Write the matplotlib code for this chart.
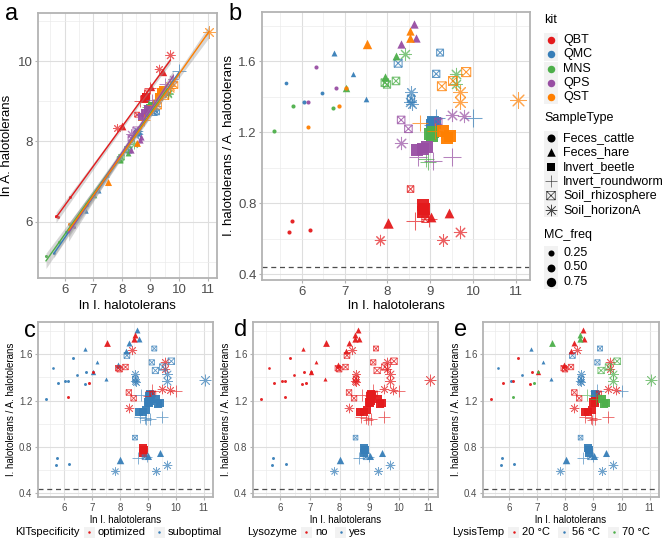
import numpy as np
import matplotlib
matplotlib.use("Agg")
import matplotlib.pyplot as plt
from matplotlib.path import Path
from matplotlib.patches import Rectangle

plt.rcParams['font.family'] = ['Liberation Sans', 'DejaVu Sans']

# ---------------- data ----------------
kit_levels = ["QBT", "QMC", "MNS", "QPS", "QST"]
kit_colors = {"QBT": "#E41A1C", "QMC": "#377EB8", "MNS": "#4DAF4A",
              "QPS": "#984EA3", "QST": "#FF7F00"}
sample_levels = ["Feces_cattle", "Feces_hare", "Invert_beetle",
                 "Invert_roundworm", "Soil_rhizosphere", "Soil_horizonA"]

kit = (["QBT"] * 16 + ["QMC"] * 19 + ["MNS"] * 17 + ["QPS"] * 18 + ["QST"] * 17)
sample_type = (
    ["Feces_cattle"] * 3 + ["Feces_hare"] * 3 + ["Invert_beetle"] * 3 + ["Invert_roundworm"] * 2 + ["Soil_rhizosphere"] * 2 + ["Soil_horizonA"] * 3 +
    ["Feces_cattle"] * 3 + ["Feces_hare"] * 3 + ["Invert_beetle"] * 3 + ["Invert_roundworm"] * 3 + ["Soil_rhizosphere"] * 4 + ["Soil_horizonA"] * 3 +
    ["Feces_cattle"] * 3 + ["Feces_hare"] * 3 + ["Invert_beetle"] * 3 + ["Invert_roundworm"] * 2 + ["Soil_rhizosphere"] * 3 + ["Soil_horizonA"] * 3 +
    ["Feces_cattle"] * 3 + ["Feces_hare"] * 3 + ["Invert_beetle"] * 3 + ["Invert_roundworm"] * 3 + ["Soil_rhizosphere"] * 3 + ["Soil_horizonA"] * 3 +
    ["Feces_cattle"] * 3 + ["Feces_hare"] * 3 + ["Invert_beetle"] * 3 + ["Invert_roundworm"] * 2 + ["Soil_rhizosphere"] * 3 + ["Soil_horizonA"] * 3)

ln_I = [
    # QBT
    5.76, 5.70, 6.19, 8.02, 9.02, 9.43, 8.82, 8.85, 8.83, 8.64, 8.98, 8.54, 8.88, 7.82, 9.29, 9.70,
    # QMC
    5.62, 6.05, 6.46, 6.76, 7.19, 7.49, 9.04, 9.07, 9.10, 9.14, 10.00, 9.05, 8.25, 9.14, 9.23, 8.55, 8.55, 8.53, 8.57,
    # MNS
    5.35, 5.79, 6.74, 7.04, 7.94, 8.21, 9.04, 9.06, 9.00, 8.90, 8.95, 7.94, 7.99, 8.20, 8.42, 9.60, 9.60,
    # QPS
    6.33, 6.14, 6.80, 8.31, 8.62, 8.67, 8.70, 8.82, 8.93, 9.50, 8.71, 9.06, 8.32, 8.49, 9.19, 8.31, 9.50, 9.80,
    # QST
    6.14, 6.88, 7.04, 7.53, 8.53, 8.52, 9.30, 9.38, 9.45, 8.76, 9.10, 9.84, 9.53, 9.27, 9.70, 9.70, 11.05]

ratio = [
    # QBT
    0.70, 0.64, 0.65, 0.69, 0.72, 0.745, 0.79, 0.77, 0.75, 0.70, 0.71, 0.88, 0.71, 0.59, 0.59, 0.64,
    # QMC
    1.48, 1.37, 1.42, 1.65, 1.53, 1.39, 1.24, 1.26, 1.25, 1.28, 1.28, 1.24, 1.59, 1.53, 1.65, 1.39, 1.43, 1.37, 1.36,
    # MNS
    1.21, 1.35, 1.34, 1.45, 1.51, 1.63, 1.18, 1.20, 1.19, 1.05, 1.03, 1.48, 1.47, 1.49, 1.64, 1.53, 1.47,
    # QPS
    1.57, 1.37, 1.45, 1.70, 1.81, 1.73, 1.10, 1.105, 1.12, 1.06, 1.06, 1.04, 1.27, 1.22, 1.26, 1.14, 1.30, 1.29,
    # QST
    1.23, 1.35, 1.45, 1.70, 1.77, 1.73, 1.21, 1.17, 1.18, 1.25, 1.21, 1.54, 1.49, 1.46, 1.43, 1.37, 1.38]

mc_freq = [
    # QBT
    0.05, 0.05, 0.05, 0.70, 0.60, 0.60, 0.95, 0.95, 0.90, 0.80, 0.60, 0.30, 0.30, 0.40, 0.50, 0.60,
    # QMC
    0.02, 0.05, 0.03, 0.15, 0.10, 0.12, 0.95, 0.90, 0.90, 0.90, 0.85, 0.70, 0.50, 0.40, 0.35, 0.40, 0.50, 0.55, 0.50,
    # MNS
    0.05, 0.05, 0.05, 0.30, 0.40, 0.35, 0.95, 0.95, 0.90, 0.70, 0.60, 0.45, 0.40, 0.45, 0.55, 0.60, 0.55,
    # QPS
    0.05, 0.05, 0.05, 0.40, 0.40, 0.40, 0.95, 0.95, 0.95, 0.80, 0.80, 0.80, 0.45, 0.45, 0.40, 0.60, 0.60, 0.60,
    # QST
    0.05, 0.06, 0.06, 0.55, 0.40, 0.45, 1.00, 1.00, 1.00, 0.70, 0.70, 0.70, 0.65, 0.65, 0.75, 0.80, 1.00]

optimized_pairs = [("QST", "Feces_cattle"), ("QST", "Feces_hare"), ("QBT", "Invert_beetle"),
                   ("QMC", "Invert_roundworm"), ("MNS", "Soil_rhizosphere"), ("MNS", "Soil_horizonA"),
                   ("QPS", "Soil_rhizosphere"), ("QPS", "Soil_horizonA")]
lysozyme_by_kit = {"QBT": "yes", "QMC": "no", "MNS": "no", "QPS": "no", "QST": "no"}
lysis_temp_by_kit = {"QBT": "56 °C", "QMC": "56 °C", "MNS": "20 °C", "QPS": "20 °C", "QST": "70 °C"}
ratio_cutoff = 0.44

kitspec_colors = {"optimized": "#E41A1C", "suboptimal": "#377EB8"}
lysozyme_colors = {"no": "#E41A1C", "yes": "#377EB8"}
lysis_colors = {"20 °C": "#E41A1C", "56 °C": "#377EB8", "70 °C": "#4DAF4A"}

ln_I = np.array(ln_I)
ratio = np.array(ratio)
mc_freq = np.array(mc_freq)
ln_A = ln_I - np.log(ratio)

# ---------------- markers ----------------
boxx = Path([(-1, -1), (1, -1), (1, 1), (-1, 1), (-1, -1), (-1, -1), (1, 1), (-1, 1), (1, -1)],
            [Path.MOVETO, Path.LINETO, Path.LINETO, Path.LINETO, Path.CLOSEPOLY,
             Path.MOVETO, Path.LINETO, Path.MOVETO, Path.LINETO])
shape_marker = {"Feces_cattle": "o", "Feces_hare": "^", "Invert_beetle": "s",
                "Invert_roundworm": "+", "Soil_rhizosphere": boxx, "Soil_horizonA": (8, 2, 0)}
shape_factor = {"Feces_cattle": 1.0, "Feces_hare": 1.15, "Invert_beetle": 1.1,
                "Invert_roundworm": 1.8, "Soil_rhizosphere": 1.0, "Soil_horizonA": 1.45}
line_markers = {"Invert_roundworm", "Soil_horizonA"}

PX2PT = 72 / 100.0


def diam_px(f):
    return np.sqrt(12 + 100 * f)


W, H = 668, 542
fig = plt.figure(figsize=(W / 100, H / 100), dpi=100)


def px_axes(l, t, r, b):
    return fig.add_axes([l / W, 1 - b / H, (r - l) / W, (b - t) / H])


def style(ax, fs, xmaj, xmin, ymaj, ymin, yfmt):
    ax.set_xticks(xmaj)
    ax.set_xticks(xmin, minor=True)
    ax.set_yticks(ymaj)
    ax.set_yticks(ymin, minor=True)
    ax.set_yticklabels([yfmt.format(v) for v in ymaj])
    ax.grid(which='major', color='#DEDEDE', lw=0.8, zorder=0)
    ax.grid(which='minor', color='#EBEBEB', lw=0.5, zorder=0)
    ax.set_axisbelow(True)
    for s in ax.spines.values():
        s.set_color('#B3B3B3')
        s.set_linewidth(1.3)
    ax.tick_params(which='major', length=2.5, color='#B3B3B3', labelsize=fs, labelcolor='#4D4D4D', pad=1.5)
    ax.tick_params(which='minor', length=0)


def scatter_one(ax, x, y, st, color, d_pt, lw=0.8, alpha_line=0.7, alpha_fill=0.95, zorder=3):
    m = shape_marker[st]
    s = d_pt ** 2
    if st in line_markers:
        ax.scatter(x, y, s=s, marker=m, c=color, linewidths=lw, alpha=alpha_line, zorder=zorder)
    elif st == "Soil_rhizosphere":
        ax.scatter(x, y, s=s, marker=m, facecolors='none', edgecolors=color,
                   linewidths=lw, alpha=alpha_line + 0.1, zorder=zorder)
    else:
        ax.scatter(x, y, s=s, marker=m, c=color, linewidths=0, alpha=alpha_fill, zorder=zorder)


def draw_points(ax, xs, ys, colors, scale, lw=0.8):
    for i in range(len(xs)):
        st = sample_type[i]
        d = diam_px(mc_freq[i]) * shape_factor[st] * scale * PX2PT
        scatter_one(ax, xs[i], ys[i], st, colors[i], d, lw=lw)


kit_col = [kit_colors[k] for k in kit]

# ---------------- panel a ----------------
axa = px_axes(38, 13, 217, 278)
draw_points(axa, ln_I, ln_A, kit_col, 0.75, lw=0.7)
for k in kit_levels:
    idx = np.array([kk == k for kk in kit])
    x = ln_I[idx]
    y = ln_A[idx]
    b1, b0 = np.polyfit(x, y, 1)
    xs = np.linspace(x.min(), x.max(), 60)
    yh = b0 + b1 * xs
    n = len(x)
    res = y - (b0 + b1 * x)
    sres = np.sqrt(np.sum(res ** 2) / (n - 2))
    se = sres * np.sqrt(1 / n + (xs - x.mean()) ** 2 / np.sum((x - x.mean()) ** 2))
    axa.fill_between(xs, yh - 2.11 * se, yh + 2.11 * se, color='#999999', alpha=0.4, lw=0, zorder=4)
    axa.plot(xs, yh, color=kit_colors[k], lw=1.0, zorder=5)
axa.set_xlim(5.07, 11.33)
axa.set_ylim(4.6, 11.2)
style(axa, 9.5, [6, 7, 8, 9, 10, 11], np.arange(5.5, 11.5, 0.5), [6, 8, 10], [5, 7, 9, 11], "{:g}")
axa.set_xlabel("ln I. halotolerans", fontsize=9.5, labelpad=3)
axa.set_ylabel("ln A. halotolerans", fontsize=9.5, labelpad=3)

# ---------------- ratio panels ----------------
ratio_xmaj = [6, 7, 8, 9, 10, 11]
ratio_xmin = np.arange(5.5, 11.5, 0.5)
ratio_ymaj = [0.4, 0.8, 1.2, 1.6]
ratio_ymin = [0.6, 1.0, 1.4, 1.8]


def ratio_panel(rect, colors, scale, fs, lfs, lw):
    ax = px_axes(*rect)
    ax.axhline(ratio_cutoff, color='#4D4D4D', ls=(0, (4, 3)), lw=0.9, zorder=2)
    draw_points(ax, ln_I, ratio, colors, scale, lw=lw)
    ax.set_xlim(5.07, 11.33)
    ax.set_ylim(0.367, 1.879)
    style(ax, fs, ratio_xmaj, ratio_xmin, ratio_ymaj, ratio_ymin, "{:.1f}")
    ax.set_xlabel("ln I. halotolerans", fontsize=lfs, labelpad=2)
    ax.set_ylabel("I. halotolerans / A. halotolerans", fontsize=lfs, labelpad=2)
    return ax


axb = ratio_panel((262, 12, 530, 280), kit_col, 1.0, 9.5, 9.5, 0.75)

spec = ["optimized" if (k, s) in optimized_pairs else "suboptimal" for k, s in zip(kit, sample_type)]
axc = ratio_panel((38, 322, 213, 497), [kitspec_colors[v] for v in spec], 0.72, 7, 7, 0.6)
axd = ratio_panel((253, 322, 438, 497), [lysozyme_colors[lysozyme_by_kit[k]] for k in kit], 0.72, 7, 7, 0.6)
axe = ratio_panel((483, 322, 659, 497), [lysis_colors[lysis_temp_by_kit[k]] for k in kit], 0.72, 7, 7, 0.6)

# ---------------- overlay: letters and legends ----------------
ov = fig.add_axes([0, 0, 1, 1], zorder=10)
ov.set_xlim(0, W)
ov.set_ylim(H, 0)
ov.axis('off')

for letter, (lx, ly) in zip("abcde", [(12, 14), (235, 14), (30, 331), (241, 330), (461, 330)]):
    ov.text(lx, ly, letter, fontsize=17, ha='center', va='center')

# legend for panel b
lx0 = 544
lfs = 9
ov.text(lx0, 20, "kit", fontsize=lfs, va='center')
for i, k in enumerate(kit_levels):
    y = 40 + i * 14.3
    ov.add_patch(Rectangle((lx0, y - 7.1), 14, 14.2, color='#F2F2F2', lw=0))
    ov.scatter(lx0 + 7, y, s=(7.5 * PX2PT) ** 2, marker='o', c=kit_colors[k], lw=0)
    ov.text(lx0 + 19, y, k, fontsize=lfs, va='center')

ov.text(lx0, 118, "SampleType", fontsize=lfs, va='center')
legend_shape_px = {"Feces_cattle": 8, "Feces_hare": 8.5, "Invert_beetle": 8,
                   "Invert_roundworm": 12, "Soil_rhizosphere": 8.5, "Soil_horizonA": 11}
for i, st in enumerate(sample_levels):
    y = 138 + i * 14.4
    ov.add_patch(Rectangle((lx0, y - 7.2), 14, 14.4, color='#F2F2F2', lw=0))
    scatter_one(ov, lx0 + 7, y, st, 'black', legend_shape_px[st] * PX2PT, lw=0.5,
                alpha_line=0.7, alpha_fill=1.0)
    ov.text(lx0 + 19, y, st, fontsize=lfs, va='center')

ov.text(lx0, 235, "MC_freq", fontsize=lfs, va='center')
for i, f in enumerate([0.25, 0.50, 0.75]):
    y = 253 + i * 14.5
    ov.add_patch(Rectangle((lx0, y - 7.2), 14, 14.4, color='#F2F2F2', lw=0))
    ov.scatter(lx0 + 7, y, s=(diam_px(f) * PX2PT) ** 2, marker='o', c='black', lw=0)
    ov.text(lx0 + 19, y, "{:.2f}".format(f), fontsize=lfs, va='center')


def bottom_legend(x0, title, labels, colors):
    y = 532
    t = ov.text(x0, y, title, fontsize=8, va='center')
    fig.canvas.draw()
    bb = t.get_window_extent()
    x = x0 + bb.width + 4
    for lab in labels:
        ov.add_patch(Rectangle((x, y - 5.5), 11, 11, color='#F2F2F2', lw=0))
        ov.scatter(x + 5.5, y, s=(2.5 * PX2PT) ** 2, marker='o', c=colors[lab], lw=0)
        tt = ov.text(x + 14, y, lab, fontsize=8, va='center')
        fig.canvas.draw()
        x = x + 14 + tt.get_window_extent().width + 8


bottom_legend(15, "KITspecificity", ["optimized", "suboptimal"], kitspec_colors)
bottom_legend(247, "Lysozyme", ["no", "yes"], lysozyme_colors)
bottom_legend(452, "LysisTemp", ["20 °C", "56 °C", "70 °C"], lysis_colors)

fig.savefig("out.png", dpi=100)
